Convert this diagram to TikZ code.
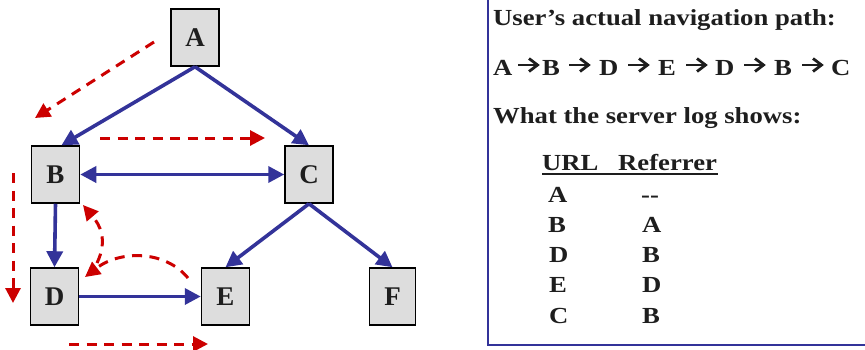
\documentclass[tikz,border=0pt]{standalone}
\usepackage{fontspec}
\setmainfont{Liberation Serif}[FakeStretch=1.16]
\newfontfamily\boxfont{Liberation Serif}
\usetikzlibrary{arrows.meta}
\definecolor{navy}{RGB}{51,51,153}
\definecolor{pathred}{RGB}{204,0,0}
\definecolor{boxgray}{RGB}{221,221,221}
\definecolor{ink}{RGB}{30,30,30}
\tikzset{
  pagebox/.style={draw=black, line width=1.5pt, fill=boxgray, minimum width=48pt,
    minimum height=57pt, inner sep=0pt, text=ink,
    font=\boxfont\bfseries\fontsize{27}{27}\selectfont},
  txt/.style={anchor=base west, inner sep=0pt, text=ink,
    font=\bfseries\fontsize{23}{23}\selectfont},
  link/.style={draw=navy, line width=3.6pt, -{Triangle[length=16pt,width=16pt]}},
  biglink/.style={draw=navy, line width=3.6pt, {Triangle[length=16pt,width=16pt]}-{Triangle[length=16pt,width=16pt]}},
  nav/.style={draw=pathred, line width=3pt, dash pattern=on 10pt off 7.5pt,
    -{Triangle[length=15pt,width=15pt]}},
  glypharrow/.style={draw=ink, line width=2.8pt, line join=miter, line cap=butt}
}
\begin{document}
\begin{tikzpicture}[x=1pt,y=-1pt]
\useasboundingbox (0,0) rectangle (865,349);
% page boxes
\node[pagebox] (A) at (195,37.5) {A};
\node[pagebox] (B) at (55.5,174.5) {B};
\node[pagebox] (C) at (309,174.5) {C};
\node[pagebox] (D) at (54.5,296.5) {D};
\node[pagebox] (E) at (225.5,296.5) {E};
\node[pagebox, minimum width=46pt] (F) at (392.5,296.5) {F};
% hyperlinks
\draw[link] (A.south) -- ([xshift=6pt]B.north);
\draw[link] (A.south) -- (C.north);
\draw[biglink] (B.east) -- (C.west);
\draw[link] (B.south) -- (D.north);
\draw[link] (C.south) -- (E.north);
\draw[link] (C.south) -- (F.north);
\draw[link] (D.east) -- (E.west);
% navigation path
\coordinate (r1s) at (154,42);   \coordinate (r1e) at (35,118);
\coordinate (r2s) at (100,138);  \coordinate (r2e) at (265,138);
\coordinate (r3s) at (13,173);   \coordinate (r3e) at (13,303);
\coordinate (r4s) at (69,344);   \coordinate (r4e) at (208,344);
\coordinate (r5s) at (188,278);  \coordinate (r5e) at (85,277);
\coordinate (r6s) at (97,263);   \coordinate (r6e) at (83,205);
\draw[nav] (r1s) -- (r1e);
\draw[nav] (r2s) -- (r2e);
\draw[nav] (r3s) -- (r3e);
\draw[nav] (r4s) -- (r4e);
\draw[nav] (r5s) .. controls (165,250) and (120,250) .. (r5e);
\draw[nav] (r6s) .. controls (108,240) and (100,225) .. (r6e);
% right panel
\draw[navy, line width=2pt] (487.5,0) -- (487.5,345) -- (865,345);
\node[txt] (t1) at (493,25) {User’s actual navigation path:};
% path line: letters and arrows
\node[txt] (p1) at (493,75) {A};
\node[txt] (p2) at (542,75) {B};
\node[txt] (p3) at (599,75) {D};
\node[txt] (p4) at (658,75) {E};
\node[txt] (p5) at (715,75) {D};
\node[txt] (p6) at (774,75) {B};
\node[txt] (p7) at (831,75) {C};
\foreach \s in {518,569,628,686,744,802}{
  \draw[glypharrow] (\s,65) -- (\s+19,65);
  \draw[glypharrow] (\s+11,58.5) -- (\s+19.5,65) -- (\s+11,71.5);
}
\node[txt] (t3) at (493,123) {What the server log shows:};
\node[txt] (hu) at (542,170) {URL};
\node[txt] (hr) at (618,170) {Referrer};
\draw[ink, line width=2pt] (542,174) -- (718,174);
\node[txt] (u1) at (548,202) {A};  \node[txt] (f1) at (641,202) {-{}-};
\node[txt] (u2) at (548,232) {B};  \node[txt] (f2) at (642,232) {A};
\node[txt] (u3) at (549,262) {D};  \node[txt] (f3) at (642,262) {B};
\node[txt] (u4) at (549,292) {E};  \node[txt] (f4) at (642,292) {D};
\node[txt] (u5) at (549,323) {C};  \node[txt] (f5) at (642,323) {B};
\end{tikzpicture}
\end{document}
